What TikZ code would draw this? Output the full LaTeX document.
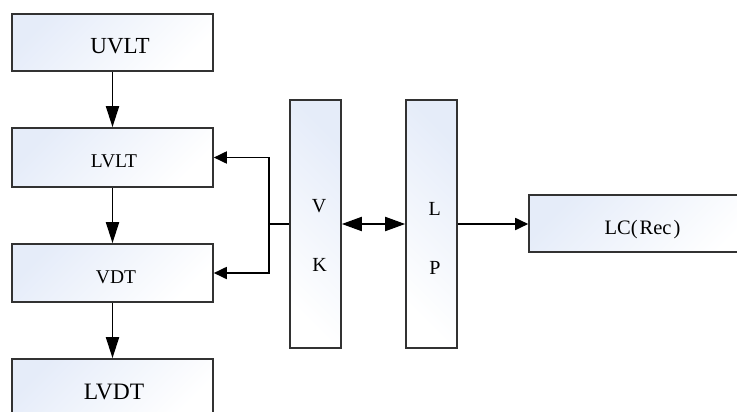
\documentclass[tikz,border=0pt]{standalone}
\usepackage{fontspec}
\setmainfont{Liberation Serif}
\usetikzlibrary{arrows.meta}
\definecolor{boxblue}{RGB}{229,236,249}
\definecolor{edgegray}{RGB}{50,50,50}
\begin{document}
\begin{tikzpicture}[x=1pt,y=-1pt,
  box/.style={draw=edgegray, line width=1.6pt, top color=boxblue, bottom color=white,
              shading angle=45, inner sep=0pt},
  tallbox/.style={box, shading angle=-45},
  wire/.style={line width=1.8pt, black},
  varr/.style={wire, -{Triangle[length=21pt,width=13pt]}},
  harr/.style={wire, -{Triangle[length=13pt,width=12pt]}},
  darr/.style={wire, {Triangle[length=20pt,width=14pt]}-{Triangle[length=20pt,width=14pt]}},
  lbl/.style={anchor=base, inner sep=0pt, text=black}]
\useasboundingbox (0,0) rectangle (737,412);
\clip (0,0) rectangle (737,412);

% left column of blocks
\node[box, minimum width=201pt, minimum height=57pt] (uvlt) at (112.5,42.5) {};
\node[box, minimum width=201pt, minimum height=59pt] (lvlt) at (112.5,157.5) {};
\node[box, minimum width=201pt, minimum height=58pt] (vdt)  at (112.5,273) {};
\node[box, minimum width=201pt, minimum height=58pt] (lvdt) at (112.5,388) {};

% tall blocks and the right block
\node[tallbox, minimum width=51pt, minimum height=248pt] (vk) at (315.5,224) {};
\node[tallbox, minimum width=51pt, minimum height=248pt] (lp) at (431.5,224) {};
\node[box, minimum width=231pt, minimum height=57pt] (lc) at (644.5,223.5) {};

% labels
\node[lbl, font=\fontsize{23}{23}\selectfont] (uvlt-t) at (120,54) {UVLT};
\node[lbl, font=\fontsize{19.5}{19.5}\selectfont] (lvlt-t) at (114,167.3) {LVLT};
\node[lbl, font=\fontsize{19.5}{19.5}\selectfont] (vdt-t) at (116,283.3) {VDT};
\node[lbl, font=\fontsize{23.5}{23.5}\selectfont] (lvdt-t) at (114,399) {LVDT};
\node[lbl, font=\fontsize{20.5}{20.5}\selectfont] (lc-t) at (642.5,234.3) {LC(\hspace{2pt}Rec\hspace{2pt})};
\node[lbl, font=\fontsize{20}{20}\selectfont] (vk-v) at (319,212.3) {V};
\node[lbl, font=\fontsize{20}{20}\selectfont] (vk-k) at (319.5,271.7) {K};
\node[lbl, font=\fontsize{20}{20}\selectfont] (lp-l) at (434.7,215) {L};
\node[lbl, font=\fontsize{20}{20}\selectfont] (lp-p) at (435,274.3) {P};

% vertical flow
\draw[varr] (uvlt.south) -- (lvlt.north);
\draw[varr] (lvlt.south) -- (vdt.north);
\draw[varr] (vdt.south) -- (lvdt.north);

% branch from VK to LVLT and VDT
\coordinate (br) at (269,224);
\draw[wire] (vk.west) -- (br);
\draw[harr] (br) |- (lvlt.east);
\draw[harr] (br) |- (vdt.east);

% VK <-> LP, LP -> LC
\draw[darr] (vk.east) -- (lp.west);
\draw[harr] (lp.east) -- (lp.east -| lc.west);
\end{tikzpicture}
\end{document}
